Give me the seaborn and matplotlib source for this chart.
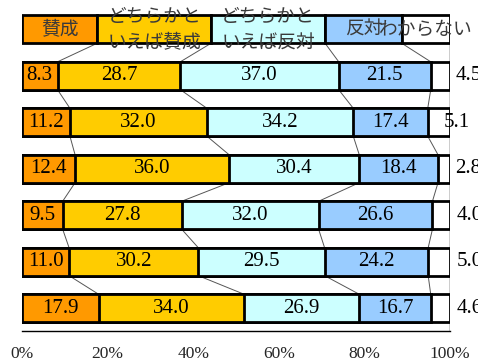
import matplotlib
matplotlib.use("Agg")
import matplotlib.pyplot as plt
from matplotlib.patches import Rectangle
import numpy as np
import pandas as pd
import seaborn as sns

# Response categories (left to right) and survey rows (top to bottom)
categories = ["賛成", "どちらかと\nいえば賛成", "どちらかと\nいえば反対", "反対", "わからない"]
rows = ["第1回", "第2回", "第3回", "第4回", "第5回", "第6回"]

agree = [8.3, 11.2, 12.4, 9.5, 11.0, 17.9]
rather_agree = [28.7, 32.0, 36.0, 27.8, 30.2, 34.0]
rather_oppose = [37.0, 34.2, 30.4, 32.0, 29.5, 26.9]
oppose = [21.5, 17.4, 18.4, 26.6, 24.2, 16.7]
unknown = [4.5, 5.1, 2.8, 4.0, 5.0, 4.6]

xticks = [0, 20, 40, 60, 80, 100]
xtick_labels = ["0%", "20%", "40%", "60%", "80%", "100%"]

colors = ["#FF9900", "#FFCC00", "#CCFFFF", "#99CCFF", "#FFFFFF"]

sns.set_style("white")
plt.rcParams["font.family"] = ["Liberation Serif", "Noto Sans CJK JP"]

series = [agree, rather_agree, rather_oppose, oppose, unknown]
df = pd.DataFrame({c: s for c, s in zip(categories, series)}, index=rows)
cum = df.cumsum(axis=1)

W, H = 478, 363
fig = plt.figure(figsize=(W / 100, H / 100), dpi=100)
ax = fig.add_axes([22 / W, 1 - 331 / H, 428 / W, 325 / H])

BAR_H = 0.6
EDGE = 2.0

# stacked bars: draw cumulative totals from the back to the front
for k in range(len(categories) - 1, -1, -1):
    sns.barplot(x=cum.iloc[:, k].values, y=rows, orient="h", color=colors[k],
                saturation=1, edgecolor="black", linewidth=EDGE, width=BAR_H,
                errorbar=None, ax=ax, zorder=2)

# header row of category boxes above the bars
header_edges = [0, 17.6, 44.2, 70.8, 88.7, 100]
hy = -1
for k in range(len(categories)):
    x0, x1 = header_edges[k], header_edges[k + 1]
    ax.add_patch(Rectangle((x0, hy - BAR_H / 2), x1 - x0, BAR_H, facecolor=colors[k],
                           edgecolor="black", linewidth=EDGE, zorder=2))
    cx = (x0 + x1) / 2
    lines = categories[k].split("\n")
    jp = dict(ha="center", va="center", fontsize=13.5, color="#3a3a3a",
              family=["Noto Sans CJK JP", "DejaVu Sans"], zorder=5, clip_on=False)
    if len(lines) == 1:
        ax.text(cx, hy, lines[0], **jp)
    else:
        ax.text(cx, hy - 0.27, lines[0], **jp)
        ax.text(cx, hy + 0.29, lines[1], **jp)

# series connector lines between neighbouring bars
bounds = [header_edges[1:]] + [list(cum.iloc[i].values) for i in range(len(rows))]
ypos = [hy] + list(range(len(rows)))
for i in range(len(bounds) - 1):
    for k in range(len(categories) - 1):
        ax.plot([bounds[i][k], bounds[i + 1][k]],
                [ypos[i] + BAR_H / 2, ypos[i + 1] - BAR_H / 2],
                color="#555555", lw=0.7, zorder=1)
ax.vlines(100, hy + BAR_H / 2, len(rows) - 0.51, color="black", lw=1.0, zorder=1)

# value labels
end_offsets = [1.4, -1.5, 1.2, 1.6, 1.6, 1.5]
for i in range(len(rows)):
    start = 0
    for k in range(len(categories)):
        v = df.iloc[i, k]
        if k < len(categories) - 1:
            ax.text(start + v / 2, i, f"{v:.1f}", ha="center", va="center",
                    fontsize=15, color="black", zorder=5)
        else:
            ax.text(100 + end_offsets[i], i, f"{v:.1f}", ha="left", va="center",
                    fontsize=15, color="black", zorder=5, clip_on=False)
        start += v

ax.set_xlim(0, 100)
ax.set_ylim(len(rows) - 0.51, -1.5)
ax.set_xticks(xticks)
ax.set_xticklabels(xtick_labels, fontsize=12.5)
ax.set_yticks([])
ax.set_xlabel("")
ax.set_ylabel("")
ax.tick_params(axis="x", direction="in", length=5, width=1, color="black", pad=11)
for s in ["top", "left", "right"]:
    ax.spines[s].set_visible(False)
ax.spines["bottom"].set_color("black")
ax.spines["bottom"].set_linewidth(1)
ax.patch.set_alpha(0)

fig.savefig("out.png", dpi=100)
